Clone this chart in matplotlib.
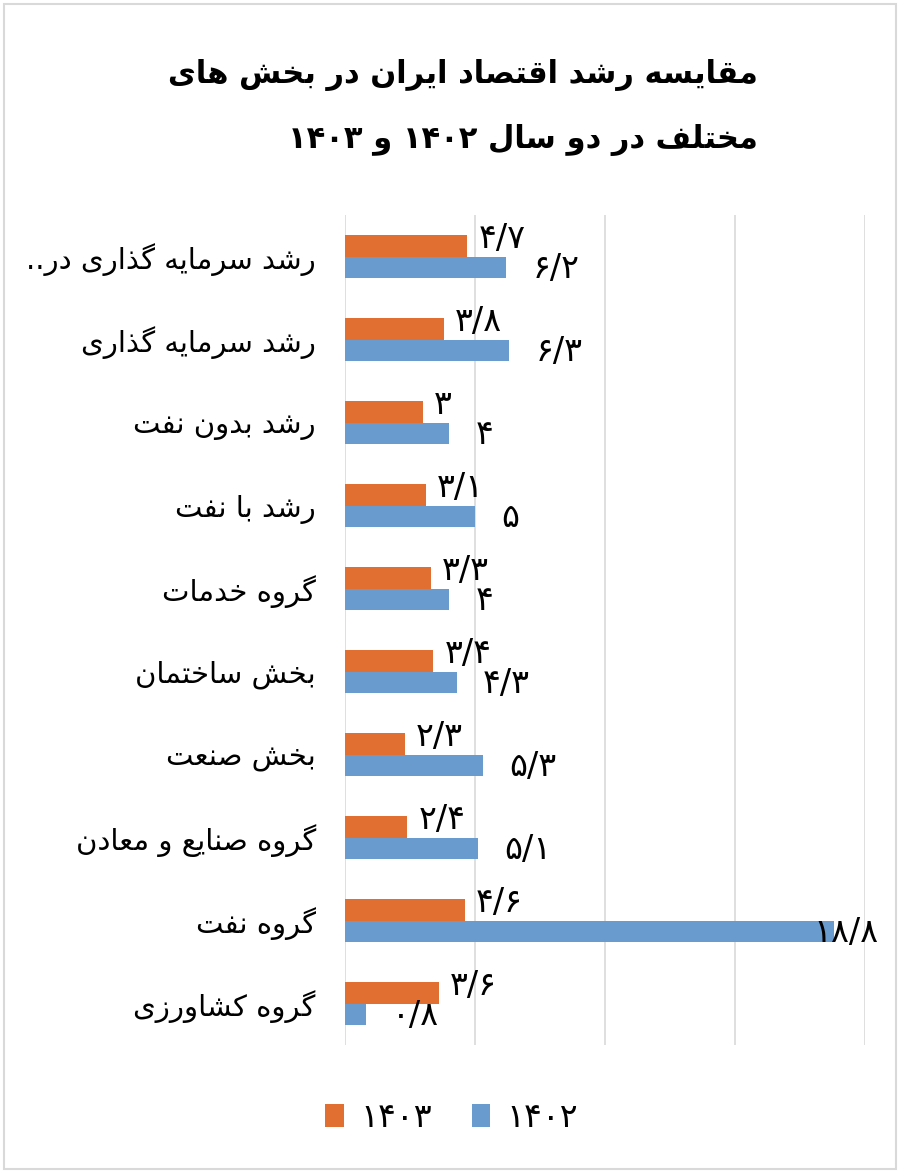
#!/usr/bin/env python3
import re

import matplotlib

matplotlib.use("Agg")
import matplotlib.pyplot as plt
import numpy as np
from matplotlib.patches import Rectangle

# ---- data ----
categories = [
    "رشد سرمایه گذاری در..",
    "رشد سرمایه گذاری",
    "رشد بدون نفت",
    "رشد با نفت",
    "گروه خدمات",
    "بخش ساختمان",
    "بخش صنعت",
    "گروه صنایع و معادن",
    "گروه نفت",
    "گروه کشاورزی",
]
values_1403 = [4.7, 3.8, 3.0, 3.1, 3.3, 3.4, 2.3, 2.4, 4.6, 3.6]
values_1402 = [6.2, 6.3, 4.0, 5.0, 4.0, 4.3, 5.3, 5.1, 18.8, 0.8]
series_names = ["۱۴۰۳", "۱۴۰۲"]
title_lines = ["مقایسه رشد اقتصاد ایران در بخش های", "مختلف در دو سال ۱۴۰۲ و ۱۴۰۳"]
x_ticks = [0, 5, 10, 15, 20]

C_1403 = "#E06F31"
C_1402 = "#6A9BCE"
GRID = "#D9D9D9"

# ---- minimal arabic/persian shaping (matplotlib has no shaper) ----
# letter: (isolated, final, initial, medial); right-joining letters have no initial/medial
FORMS = {
    "ا": ("\uFE8D", "\uFE8E", None, None),
    "ب": ("\uFE8F", "\uFE90", "\uFE91", "\uFE92"),
    "پ": ("\uFB56", "\uFB57", "\uFB58", "\uFB59"),
    "ت": ("\uFE95", "\uFE96", "\uFE97", "\uFE98"),
    "ث": ("\uFE99", "\uFE9A", "\uFE9B", "\uFE9C"),
    "ج": ("\uFE9D", "\uFE9E", "\uFE9F", "\uFEA0"),
    "چ": ("\uFB7A", "\uFB7B", "\uFB7C", "\uFB7D"),
    "ح": ("\uFEA1", "\uFEA2", "\uFEA3", "\uFEA4"),
    "خ": ("\uFEA5", "\uFEA6", "\uFEA7", "\uFEA8"),
    "د": ("\uFEA9", "\uFEAA", None, None),
    "ذ": ("\uFEAB", "\uFEAC", None, None),
    "ر": ("\uFEAD", "\uFEAE", None, None),
    "ز": ("\uFEAF", "\uFEB0", None, None),
    "ژ": ("\uFB8A", "\uFB8B", None, None),
    "س": ("\uFEB1", "\uFEB2", "\uFEB3", "\uFEB4"),
    "ش": ("\uFEB5", "\uFEB6", "\uFEB7", "\uFEB8"),
    "ص": ("\uFEB9", "\uFEBA", "\uFEBB", "\uFEBC"),
    "ض": ("\uFEBD", "\uFEBE", "\uFEBF", "\uFEC0"),
    "ط": ("\uFEC1", "\uFEC2", "\uFEC3", "\uFEC4"),
    "ظ": ("\uFEC5", "\uFEC6", "\uFEC7", "\uFEC8"),
    "ع": ("\uFEC9", "\uFECA", "\uFECB", "\uFECC"),
    "غ": ("\uFECD", "\uFECE", "\uFECF", "\uFED0"),
    "ف": ("\uFED1", "\uFED2", "\uFED3", "\uFED4"),
    "ق": ("\uFED5", "\uFED6", "\uFED7", "\uFED8"),
    "ک": ("\uFB8E", "\uFB8F", "\uFB90", "\uFB91"),
    "گ": ("\uFB92", "\uFB93", "\uFB94", "\uFB95"),
    "ل": ("\uFEDD", "\uFEDE", "\uFEDF", "\uFEE0"),
    "م": ("\uFEE1", "\uFEE2", "\uFEE3", "\uFEE4"),
    "ن": ("\uFEE5", "\uFEE6", "\uFEE7", "\uFEE8"),
    "و": ("\uFEED", "\uFEEE", None, None),
    "ه": ("\uFEE9", "\uFEEA", "\uFEEB", "\uFEEC"),
    "ی": ("\uFBFC", "\uFBFD", "\uFBFE", "\uFBFF"),
}


def shape(s):
    out = []
    for i, ch in enumerate(s):
        if ch not in FORMS:
            out.append(ch)
            continue
        prev = s[i - 1] if i > 0 else ""
        nxt = s[i + 1] if i + 1 < len(s) else ""
        dual = FORMS[ch][2] is not None
        join_prev = prev in FORMS and FORMS[prev][2] is not None
        join_next = dual and nxt in FORMS
        iso, fin, ini, med = FORMS[ch]
        if join_prev and join_next:
            out.append(med)
        elif join_prev:
            out.append(fin)
        elif join_next:
            out.append(ini)
        else:
            out.append(iso)
    vis = "".join(out)[::-1]
    # numbers keep left-to-right order
    return re.sub(r"[۰-۹/]+", lambda m: m.group()[::-1], vis)


def fa_num(v):
    s = f"{v:g}".replace(".", "/")
    return s.translate(str.maketrans("0123456789", "۰۱۲۳۴۵۶۷۸۹"))


plt.rcParams["font.family"] = ["DejaVu Sans"]

fig = plt.figure(figsize=(9, 11.73), dpi=100)
ax = fig.add_axes([0.3833, 0.1091, 0.5778, 0.7076])

y = np.arange(len(categories))
h = 0.255
ax.barh(y - h / 2, values_1403, height=h, color=C_1403, label=series_names[0], zorder=3)
ax.barh(y + h / 2, values_1402, height=h, color=C_1402, label=series_names[1], zorder=3)

ax.set_xlim(x_ticks[0], x_ticks[-1])
ax.set_ylim(len(categories) - 0.5, -0.5)
ax.set_xticks(x_ticks)
ax.xaxis.grid(True, color=GRID, linewidth=1.2, zorder=0)
ax.tick_params(axis="x", length=0, labelbottom=False)
ax.tick_params(axis="y", length=0, pad=21)
ax.set_yticks(y)
ax.set_yticklabels([shape(c) for c in categories], fontsize=21)
for sp in ax.spines.values():
    sp.set_visible(False)

# data labels
for i, (a, b) in enumerate(zip(values_1403, values_1402)):
    ax.annotate(fa_num(a), (a, i - h / 2), xytext=(8, 5), textcoords="offset points",
                ha="left", va="center", fontsize=24, zorder=4)
    xb = min(b, 17.0)
    ax.annotate(fa_num(b), (xb, i + h / 2), xytext=(19, -1), textcoords="offset points",
                ha="left", va="center", fontsize=24, zorder=4)

# title (right aligned like the original)
fig.text(0.842, 0.936, shape(title_lines[0]), ha="right", va="center",
         fontsize=22, fontweight="bold")
fig.text(0.842, 0.881, shape(title_lines[1]), ha="right", va="center",
         fontsize=22, fontweight="bold")

# legend
handles, labels = ax.get_legend_handles_labels()
fig.legend(handles, [shape(l) for l in labels], loc="center", bbox_to_anchor=(0.502, 0.047),
           ncol=2, frameon=False, fontsize=24, handlelength=0.55, handleheight=0.7,
           columnspacing=1.2, handletextpad=0.5)

# outer chart border
fig.patches.append(Rectangle((0.004, 0.003), 0.992, 0.994, transform=fig.transFigure,
                             fill=False, edgecolor=GRID, linewidth=1.5))

fig.savefig("out.png", dpi=100)
